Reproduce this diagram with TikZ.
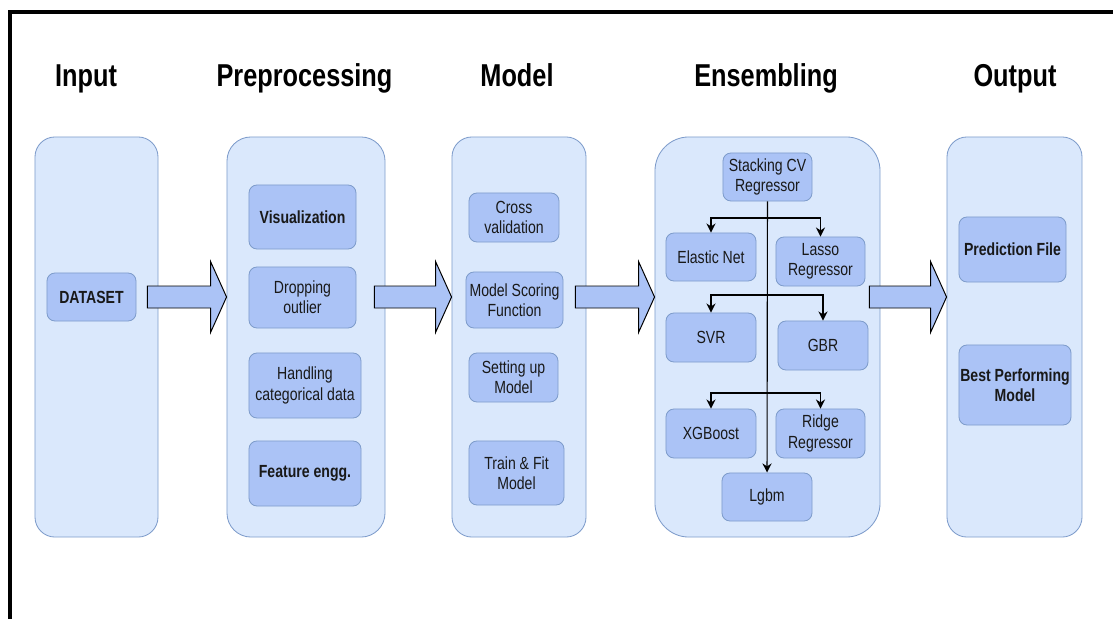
\documentclass[tikz,border=0pt]{standalone}
\usepackage{fontspec}
\setmainfont{Liberation Sans}[FakeStretch=0.8]
\usepackage{xcolor}
\usetikzlibrary{shapes,positioning,calc,arrows.meta}
\definecolor{colfill}{HTML}{DAE8FC}
\definecolor{coldraw}{HTML}{7E9CCB}
\definecolor{boxfill}{HTML}{ABC3F6}
\tikzset{col/.style={draw=coldraw,fill=colfill,inner sep=0pt,line width=0.6pt},
    box/.style={draw=coldraw,fill=boxfill,rounded corners=0.2cm,align=center,inner sep=0pt,
        font=\fontsize{12.5}{14.5}\selectfont,text=black!90,line width=0.6pt},
    bbox/.style={box,font=\fontsize{12.5}{14.5}\selectfont\bfseries},
    ttl/.style={anchor=base,font=\fontsize{22.5}{26}\selectfont\bfseries},
    big/.style={draw=black,fill=boxfill,line width=0.7pt}}
% block arrow from column #1 to column #2, at the height of the dataset box
\newcommand{\flowarrow}[2]{%
    \path let \p1=(#1.east), \p2=(#2.west), \p3=(data.center) in
        [big] (\x1-0.275cm,\y3+0.275cm) -- (\x2-0.4cm,\y3+0.275cm) -- (\x2-0.4cm,\y3+0.8875cm)
        -- (\x2,\y3) -- (\x2-0.4cm,\y3-0.8875cm) -- (\x2-0.4cm,\y3-0.275cm)
        -- (\x1-0.275cm,\y3-0.275cm) -- cycle;}

\begin{document}
\begin{tikzpicture}[x=0.025cm,y=-0.025cm,>={Stealth[length=6.5pt,width=6.5pt]}]
    \useasboundingbox (0,0) rectangle (1113,619);
    \draw [line width=2.6pt] (10,619) -- (10,12) -- (1113,12);

    % titles
    \node[ttl] (t1) at (86,86) {Input};
    \node[ttl] (t2) at (304.5,86) {Preprocessing};
    \node[ttl] (t3) at (517,86) {Model};
    \node[ttl] (t4) at (766,86) {Ensembling};
    \node[ttl] (t5) at (1015,86) {Output};

    % columns
    \node[col,rounded corners=0.5cm,minimum width=3.075cm,minimum height=10cm] (inp) at (96.5,337) {};
    \node[col,rounded corners=0.6cm,minimum width=3.95cm,minimum height=10cm] (prep) at (306,337) {};
    \node[col,rounded corners=0.5cm,minimum width=3.35cm,minimum height=10cm] (mod) at (519,337) {};
    \node[col,rounded corners=0.85cm,minimum width=5.625cm,minimum height=10cm] (ens) at (767.5,337) {};
    \node[col,rounded corners=0.5cm,minimum width=3.375cm,minimum height=10cm] (out) at (1014.5,337) {};

    % input
    \node[bbox,minimum width=2.225cm,minimum height=1.2cm] (data) at (91.5,297) {DATASET};

    \flowarrow{inp}{prep}
    \flowarrow{prep}{mod}
    \flowarrow{mod}{ens}
    \flowarrow{ens}{out}

    % preprocessing
    \node[bbox,minimum width=2.675cm,minimum height=1.6cm] (vis) at (302.5,217) {Visualization};
    \node[box,minimum width=2.675cm,minimum height=1.525cm] (drop) at (302.5,297.5) {Dropping\\outlier};
    \node[box,minimum width=2.8cm,minimum height=1.625cm] (hand) at (305,385.5) {Handling\\categorical data};
    \node[bbox,minimum width=2.8cm,minimum height=1.625cm] (feat) at (305,473.5) {Feature engg.};

    % model
    \node[box,minimum width=2.25cm,minimum height=1.225cm] (cv) at (514,217.5) {Cross\\validation};
    \node[box,minimum width=2.425cm,minimum height=1.4cm] (score) at (514.5,300) {Model Scoring\\Function};
    \node[box,minimum width=2.225cm,minimum height=1.225cm] (setup) at (513.5,377.5) {Setting up\\Model};
    \node[box,minimum width=2.375cm,minimum height=1.6cm] (train) at (516.5,473) {Train \& Fit\\Model};

    % ensembling
    \node[box,minimum width=2.225cm,minimum height=1.2cm] (stack) at (767.5,177) {Stacking CV\\Regressor};
    \node[box,minimum width=2.25cm,minimum height=1.2cm] (el) at (711,257) {Elastic Net};
    \node[box,minimum width=2.225cm,minimum height=1.225cm] (lasso) at (820.5,261.5) {Lasso\\Regressor};
    \node[box,minimum width=2.25cm,minimum height=1.225cm] (svr) at (711,337.5) {SVR};
    \node[box,minimum width=2.25cm,minimum height=1.225cm] (gbr) at (823,345.5) {GBR};
    \node[box,minimum width=2.25cm,minimum height=1.225cm] (xgb) at (711,433.5) {XGBoost};
    \node[box,minimum width=2.225cm,minimum height=1.225cm] (ridge) at (820.5,433.5) {Ridge\\Regressor};
    \node[box,minimum width=2.25cm,minimum height=1.2cm] (lgbm) at (767,497) {Lgbm};

    \coordinate (b1) at (767,218);
    \coordinate (b2) at (767,295);
    \coordinate (b3) at (767,393);
    \draw [->,line width=0.8pt] (stack) -- (lgbm);
    \draw [->,line width=0.8pt] (b1) -| (el);
    \draw [->,line width=0.8pt] (b1) -| (lasso);
    \draw [->,line width=0.8pt] (b2) -| (svr);
    \draw [->,line width=0.8pt] (b2) -| (gbr);
    \draw [->,line width=0.8pt] (b3) -| (xgb);
    \draw [->,line width=0.8pt] (b3) -| (ridge);

    % output
    \node[bbox,minimum width=2.675cm,minimum height=1.625cm] (pred) at (1012.5,249.5) {Prediction File};
    \node[bbox,minimum width=2.8cm,minimum height=2cm] (best) at (1015,385) {Best Performing\\Model};
\end{tikzpicture}
\end{document}
